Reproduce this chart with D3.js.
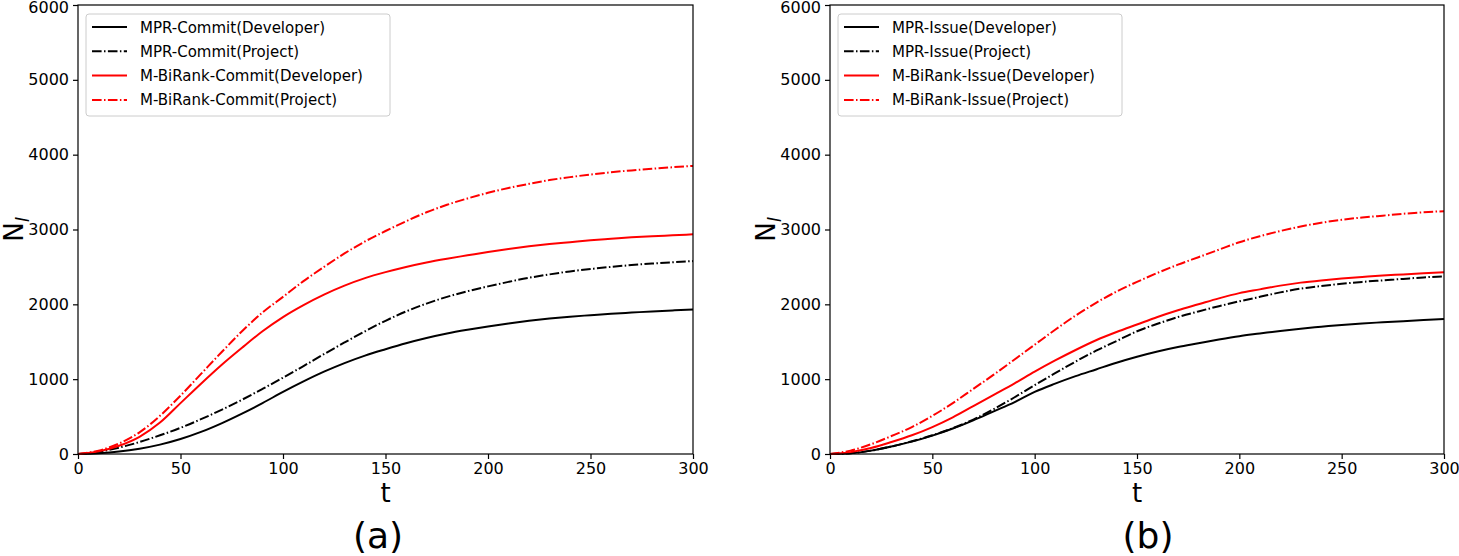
<!DOCTYPE html>
<html>
<head>
<meta charset="utf-8">
<script src="https://cdn.jsdelivr.net/npm/d3@7"></script>
<style>
  body { margin: 0; background: #fff; }
  svg { font-family: "DejaVu Sans", sans-serif; }
</style>
</head>
<body>
<svg width="1459" height="556"></svg>
<script>
// time steps (every 10)
var tSteps = d3.range(0, 301, 10);

// panel (a): commit
var mprCommitDev  = [0, 10, 32, 70, 125, 200, 295, 410, 540, 680, 830, 970, 1100, 1215, 1315, 1400, 1480, 1550, 1610, 1660, 1705, 1745, 1780, 1810, 1835, 1855, 1875, 1890, 1905, 1918, 1930];
var mprCommitProj = [0, 30, 85, 160, 250, 350, 465, 590, 725, 870, 1020, 1175, 1335, 1490, 1640, 1780, 1905, 2010, 2100, 2175, 2240, 2300, 2355, 2400, 2440, 2472, 2500, 2525, 2545, 2562, 2578];
var mbrCommitDev  = [0, 35, 110, 230, 420, 680, 940, 1190, 1420, 1640, 1830, 1990, 2130, 2250, 2350, 2430, 2500, 2560, 2610, 2655, 2700, 2740, 2775, 2805, 2830, 2855, 2875, 2895, 2910, 2922, 2935];
var mbrCommitProj = [0, 45, 140, 290, 510, 780, 1070, 1360, 1640, 1890, 2100, 2310, 2500, 2680, 2840, 2980, 3110, 3230, 3330, 3415, 3490, 3555, 3610, 3660, 3700, 3735, 3765, 3790, 3812, 3832, 3850];

// panel (b): issue
var mprIssueDev  = [0, 10, 45, 100, 165, 245, 340, 450, 570, 690, 830, 940, 1040, 1130, 1220, 1300, 1370, 1430, 1480, 1530, 1575, 1610, 1645, 1675, 1700, 1725, 1745, 1760, 1775, 1790, 1805];
var mprIssueProj = [0, 10, 45, 100, 170, 250, 345, 460, 600, 755, 920, 1080, 1235, 1380, 1510, 1640, 1740, 1830, 1905, 1975, 2040, 2100, 2160, 2210, 2245, 2275, 2300, 2320, 2340, 2360, 2375];
var mbrIssueDev  = [0, 25, 80, 160, 250, 360, 490, 640, 790, 940, 1100, 1250, 1390, 1520, 1630, 1730, 1830, 1920, 2000, 2080, 2150, 2200, 2250, 2290, 2320, 2345, 2365, 2385, 2400, 2415, 2430];
var mbrIssueProj = [0, 45, 130, 240, 360, 510, 680, 870, 1060, 1260, 1460, 1660, 1850, 2020, 2170, 2300, 2420, 2530, 2630, 2730, 2830, 2910, 2980, 3040, 3090, 3130, 3160, 3185, 3210, 3230, 3245];

var xTicks = [0, 50, 100, 150, 200, 250, 300];
var yTicks = [0, 1000, 2000, 3000, 4000, 5000, 6000];

var dashDot = "9.6,2.4,1.5,2.4";

var panels = [
  { left: 78, right: 693, tag: "(a)", tagX: 378,
    series: [
      { name: "MPR-Commit(Developer)", values: mprCommitDev, color: "#000", dash: null },
      { name: "MPR-Commit(Project)", values: mprCommitProj, color: "#000", dash: dashDot },
      { name: "M-BiRank-Commit(Developer)", values: mbrCommitDev, color: "#ff0000", dash: null },
      { name: "M-BiRank-Commit(Project)", values: mbrCommitProj, color: "#ff0000", dash: dashDot }
    ], legendW: 304 },
  { left: 830, right: 1444, tag: "(b)", tagX: 1148,
    series: [
      { name: "MPR-Issue(Developer)", values: mprIssueDev, color: "#000", dash: null },
      { name: "MPR-Issue(Project)", values: mprIssueProj, color: "#000", dash: dashDot },
      { name: "M-BiRank-Issue(Developer)", values: mbrIssueDev, color: "#ff0000", dash: null },
      { name: "M-BiRank-Issue(Project)", values: mbrIssueProj, color: "#ff0000", dash: dashDot }
    ], legendW: 284 }
];

var svg = d3.select("svg");
var plotTop = 5, plotBottom = 454;

panels.forEach(function(p) {
  var x = d3.scaleLinear().domain([0, 300]).range([p.left, p.right]);
  var y = d3.scaleLinear().domain([0, 6000]).range([plotBottom, plotTop]);
  var g = svg.append("g");

  var line = d3.line()
    .x(function(d, i) { return x(tSteps[i]); })
    .y(function(d) { return y(d); })
    .curve(d3.curveMonotoneX);

  p.series.forEach(function(s) {
    g.append("path")
      .attr("d", line(s.values))
      .attr("fill", "none")
      .attr("stroke", s.color)
      .attr("stroke-width", 2)
      .attr("stroke-dasharray", s.dash);
  });

  // frame
  g.append("rect")
    .attr("x", p.left).attr("y", plotTop)
    .attr("width", p.right - p.left).attr("height", plotBottom - plotTop)
    .attr("fill", "none").attr("stroke", "#000").attr("stroke-width", 1.2);

  var xAxis = g.append("g").attr("transform", "translate(0," + plotBottom + ")")
    .call(d3.axisBottom(x).tickValues(xTicks).tickSize(5).tickPadding(4));
  var yAxis = g.append("g").attr("transform", "translate(" + p.left + ",0)")
    .call(d3.axisLeft(y).tickValues(yTicks).tickSize(5).tickPadding(4).tickFormat(d3.format("d")));
  [xAxis, yAxis].forEach(function(a) {
    a.select(".domain").remove();
    a.selectAll("line").attr("stroke", "#000").attr("stroke-width", 1.2);
    a.selectAll("text").attr("font-size", 16).attr("fill", "#000")
      .attr("font-family", "DejaVu Sans");
  });
  // keep the top tick label inside the picture
  yAxis.selectAll(".tick text").filter(function(d) { return d === 6000; }).attr("dy", "0.45em");

  // axis labels
  g.append("text")
    .attr("x", (p.left + p.right) / 2).attr("y", 502)
    .attr("text-anchor", "middle").attr("font-size", 26).text("t");

  var yl = g.append("text")
    .attr("transform", "translate(" + (p.left - 55) + "," + ((plotTop + plotBottom) / 2) + ") rotate(-90)")
    .attr("text-anchor", "middle").attr("font-size", 26);
  yl.append("tspan").text("N");
  yl.append("tspan").attr("font-size", 18).attr("dy", 6).attr("font-style", "italic").text("l");

  g.append("text")
    .attr("x", p.tagX).attr("y", 548)
    .attr("text-anchor", "middle").attr("font-size", 36).text(p.tag);

  // legend
  var lx = p.left + 8, ly = 14;
  g.append("rect")
    .attr("x", lx).attr("y", ly)
    .attr("width", p.legendW).attr("height", 102)
    .attr("rx", 3)
    .attr("fill", "#fff").attr("fill-opacity", 0.8)
    .attr("stroke", "#cccccc").attr("stroke-width", 1);

  p.series.forEach(function(s, i) {
    var cy = ly + 13 + i * 24.3;
    g.append("line")
      .attr("x1", lx + 6).attr("x2", lx + 41)
      .attr("y1", cy).attr("y2", cy)
      .attr("stroke", s.color).attr("stroke-width", 2)
      .attr("stroke-dasharray", s.dash);
    g.append("text")
      .attr("x", lx + 54).attr("y", cy + 5.5)
      .attr("font-size", 15).attr("fill", "#000").text(s.name);
  });
});
</script>
</body>
</html>
